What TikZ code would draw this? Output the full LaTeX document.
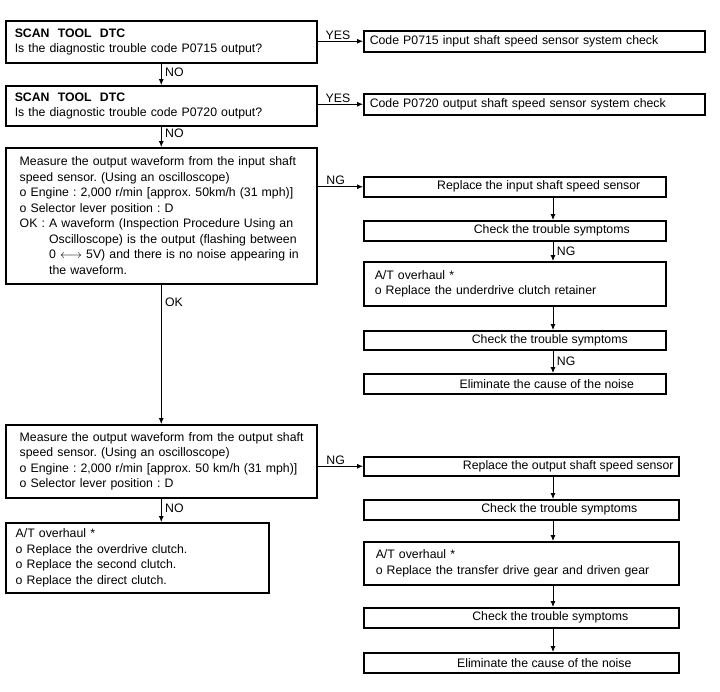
\documentclass[tikz,border=0pt]{standalone}
\usepackage{fontspec}
\setmainfont{Liberation Sans}
\usetikzlibrary{arrows.meta,calc}
\frenchspacing
\begin{document}
\begin{tikzpicture}[x=1pt,y=-1pt,
  font=\fontsize{12.3}{15.5}\selectfont\frenchspacing,
  box/.style={draw, line width=1.5pt, anchor=north west, inner ysep=0pt},
  lbox/.style={box, align=left},
  cbox/.style={box, align=center, inner xsep=0pt},
  arr/.style={line width=0.8pt, -{Latex[length=6pt,width=5pt]}},
  lab/.style={inner xsep=3.5pt, inner ysep=1.5pt}
]
\useasboundingbox (0,0) rectangle (720,691);
\coordinate (ax) at (553,0);

% left column
\node[lbox, inner xsep=9pt, text width=293pt, minimum height=42pt] (b1) at (5,20)
  {\textbf{SCAN\ \ TOOL\ \ DTC}\\Is the diagnostic trouble code P0715 output?};
\node[lbox, inner xsep=9pt, text width=293pt, minimum height=40pt] (b2) at (5,85)
  {\textbf{SCAN\ \ TOOL\ \ DTC}\\Is the diagnostic trouble code P0720 output?};
\node[lbox, inner xsep=14pt, text width=283pt, minimum height=136pt] (b3) at (5,147)
  {\mbox{Measure the output waveform from the input shaft}\\
   \mbox{speed sensor. (Using an oscilloscope)}\\
   \mbox{o Engine : 2,000 r/min [approx. 50km/h (31 mph)]}\\
   \mbox{o Selector lever position : D}\\
   \mbox{OK : A waveform (Inspection Procedure Using an}\\
   \mbox{\hphantom{OK : }Oscilloscope) is the output (flashing between}\\
   \mbox{\hphantom{OK : }0 $\longleftrightarrow$ 5V) and there is no noise appearing in}\\
   \mbox{\hphantom{OK : }the waveform.}};
\node[lbox, inner xsep=14pt, text width=283pt, minimum height=73pt] (b4) at (5,424)
  {\mbox{Measure the output waveform from the output shaft}\\
   \mbox{speed sensor. (Using an oscilloscope)}\\
   \mbox{o Engine : 2,000 r/min [approx. 50 km/h (31 mph)]}\\
   \mbox{o Selector lever position : D}};
\node[lbox, inner xsep=10pt, text width=243pt, minimum height=70pt] (b5) at (5,522)
  {A/T overhaul *\\
   o Replace the overdrive clutch.\\
   o Replace the second clutch.\\
   o Replace the direct clutch.};

% top right
\node[lbox, inner xsep=6pt, text width=329pt, minimum height=21pt] (ra) at (363,30)
  {Code P0715 input shaft speed sensor system check};
\node[lbox, inner xsep=6pt, text width=329pt, minimum height=21pt] (rb) at (363,93)
  {Code P0720 output shaft speed sensor system check};

% right column upper
\node[cbox, minimum width=302pt, minimum height=20pt] (r1) at (363,176)
  {\hspace*{48pt}Replace the input shaft speed sensor};
\node[cbox, minimum width=302pt, minimum height=20pt] (r2) at (363,220)
  {\hspace*{74pt}Check the trouble symptoms};
\node[lbox, inner xsep=11pt, text width=280pt, minimum height=44pt] (r3) at (363,261)
  {A/T overhaul *\\o Replace the underdrive clutch retainer};
\node[cbox, minimum width=302pt, minimum height=19pt] (r4) at (363,330)
  {\hspace*{70pt}Check the trouble symptoms};
\node[cbox, minimum width=302pt, minimum height=20pt] (r5) at (363,373)
  {\hspace*{64pt}Eliminate the cause of the noise};

% right column lower
\node[cbox, minimum width=315pt, minimum height=19pt] (r6) at (363,456)
  {\hspace*{94pt}Replace the output shaft speed sensor};
\node[cbox, minimum width=315pt, minimum height=20pt] (r7) at (363,499)
  {\hspace*{76pt}Check the trouble symptoms};
\node[lbox, inner xsep=12pt, text width=291pt, minimum height=43pt] (r8) at (363,541)
  {A/T overhaul *\\o Replace the transfer drive gear and driven gear};
\node[cbox, minimum width=315pt, minimum height=20pt] (r9) at (363,607)
  {\hspace*{58pt}Check the trouble symptoms};
\node[cbox, minimum width=315pt, minimum height=20pt] (r10) at (363,652)
  {\hspace*{46pt}Eliminate the cause of the noise};

% connectors
\draw[arr] (b1.south) -- (b2.north) node[lab, right, pos=0.4] {NO};
\draw[arr] (b2.south) -- (b3.north) node[lab, right, pos=0.35] {NO};
\draw[arr] (b1.east |- ra.west) -- (ra.west) node[lab, above, pos=0.45] {YES};
\draw[arr] (b2.east |- rb.west) -- (rb.west) node[lab, above, pos=0.45] {YES};
\draw[arr] (b3.east |- r1.west) -- (r1.west) node[lab, above, pos=0.4] {NG};
\draw[arr] (r1.south -| ax) -- (r2.north -| ax);
\draw[arr] (r2.south -| ax) -- (r3.north -| ax) node[lab, right, midway] {NG};
\draw[arr] (r3.south -| ax) -- (r4.north -| ax);
\draw[arr] (r4.south -| ax) -- (r5.north -| ax) node[lab, right, midway] {NG};
\draw[arr] (b3.south) -- (b4.north) node[lab, right, pos=0.13] {OK};
\draw[arr] (b4.east |- r6.west) -- (r6.west) node[lab, above, pos=0.4] {NG};
\draw[arr] (r6.south -| ax) -- (r7.north -| ax);
\draw[arr] (r7.south -| ax) -- (r8.north -| ax);
\draw[arr] (r8.south -| ax) -- (r9.north -| ax);
\draw[arr] (r9.south -| ax) -- (r10.north -| ax);
\draw[arr] (b4.south) -- (b4.south |- b5.north) node[lab, right, pos=0.4] {NO};
\end{tikzpicture}
\end{document}
